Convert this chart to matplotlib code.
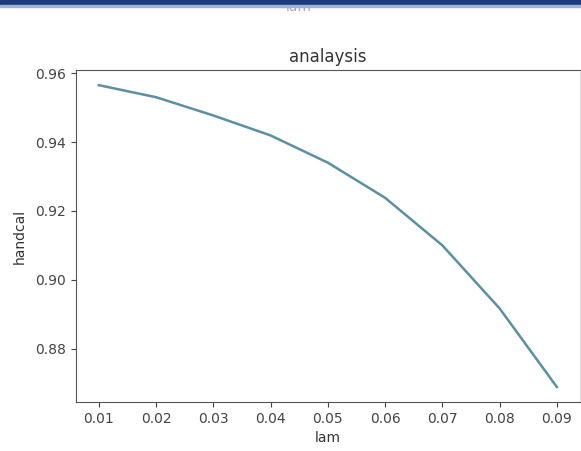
import matplotlib
matplotlib.use("Agg")
import matplotlib.pyplot as plt
from matplotlib.patches import Rectangle

# values
lam = [0.01, 0.02, 0.03, 0.04, 0.05, 0.06, 0.07, 0.08, 0.09]
handcal = [0.9565, 0.9530, 0.9477, 0.9419, 0.9340, 0.9238, 0.9100, 0.8917, 0.8689]
x_ticks = [0.01, 0.02, 0.03, 0.04, 0.05, 0.06, 0.07, 0.08, 0.09]
y_ticks = [0.88, 0.90, 0.92, 0.94, 0.96]

fig = plt.figure(figsize=(5.81, 4.51), dpi=100)
ax = fig.add_axes([0.1308, 0.1086, 0.867, 0.736])

# screenshot header strip, with the cut-off label underneath it
fig.text(0.514, 0.984, "lam", ha="center", va="center", fontsize=10,
         color="#aaaaaa", zorder=1)
fig.patches.append(Rectangle((0, 0.988), 1, 0.012, transform=fig.transFigure,
                             color="#1d3a7c", zorder=5))
fig.patches.append(Rectangle((0, 0.985), 1, 0.004, transform=fig.transFigure,
                             color="#9fb3d6", zorder=5))

ax.plot(lam, handcal, color="#5b8fa3", linewidth=1.8)

ax.set_xticks(x_ticks)
ax.set_xticklabels([f"{v:.2f}" for v in x_ticks])
ax.set_yticks(y_ticks)
ax.set_yticklabels([f"{v:.2f}" for v in y_ticks])
ax.tick_params(labelsize=10, colors="#444444")

ax.set_title("analaysis", fontsize=12, color="#333333")
ax.set_xlabel("lam", fontsize=10, color="#333333")
ax.set_ylabel("handcal", fontsize=10, color="#333333", labelpad=6)

for s in ax.spines.values():
    s.set_color("#555555")
ax.spines["right"].set_color("#dddddd")

fig.savefig("out.png", dpi=100)
